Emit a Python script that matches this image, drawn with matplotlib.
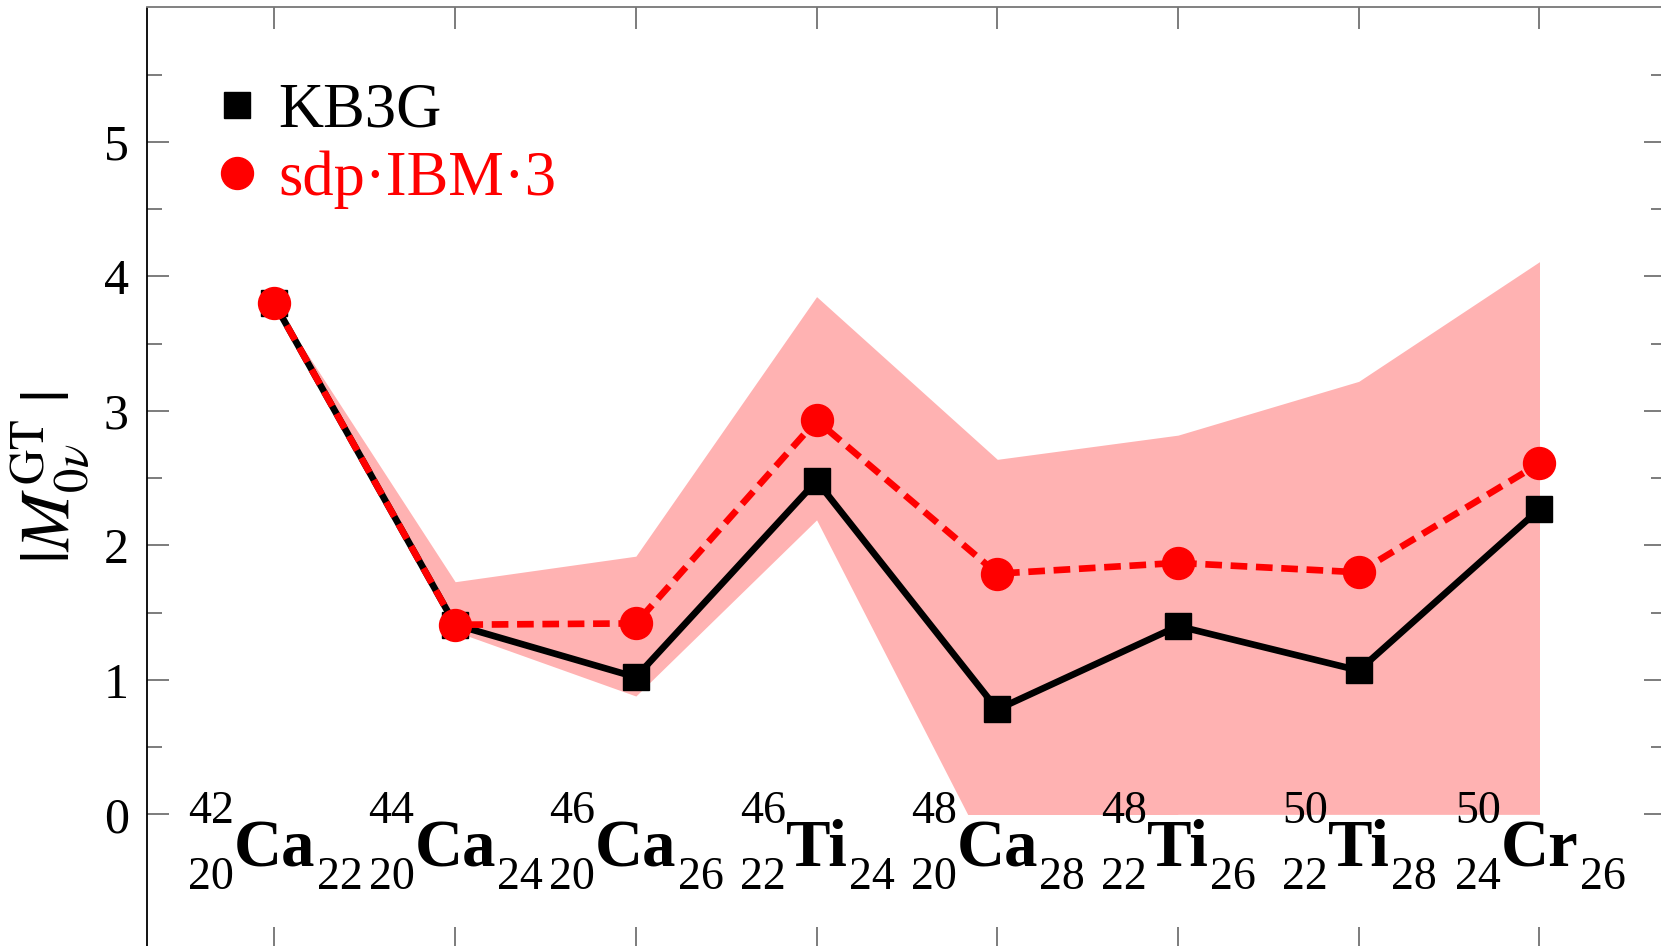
import numpy as np
import matplotlib
matplotlib.use('Agg')
import matplotlib.pyplot as plt
from matplotlib.lines import Line2D
from matplotlib.patches import Rectangle

plt.rcParams['font.family'] = 'serif'
plt.rcParams['font.serif'] = ['Liberation Serif', 'DejaVu Serif']
plt.rcParams['mathtext.fontset'] = 'stix'

# nuclei (A, Z, symbol, N)
mass_numbers = [42, 44, 46, 46, 48, 48, 50, 50]
proton_numbers = [20, 20, 20, 22, 20, 22, 22, 24]
symbols = ['Ca', 'Ca', 'Ca', 'Ti', 'Ca', 'Ti', 'Ti', 'Cr']
neutron_numbers = [22, 24, 26, 24, 28, 26, 28, 26]

kb3g = [3.80, 1.41, 1.02, 2.48, 0.78, 1.40, 1.07, 2.27]
ibm3 = [3.80, 1.41, 1.42, 2.93, 1.79, 1.87, 1.80, 2.61]
band_upper = [3.80, 1.73, 1.92, 3.85, 2.64, 2.82, 3.22, 4.11]
band_lower = [3.80, 1.36, 0.88, 2.19, -0.43, 0.0, 0.0, 0.0]

W, H = 1661, 946
fig = plt.figure(figsize=(W / 100, H / 100), dpi=100)
ax = fig.add_axes([147 / W, -0.003, (1666 - 147) / W, 1 - 7.5 / H + 0.003])

x = np.arange(len(kb3g))

band = ax.fill_between(x, band_lower, band_upper, color='#ffb2b2', lw=0, zorder=1)
band.set_clip_path(Rectangle((-1, 0), 10, 10, transform=ax.transData))

ax.plot(x, kb3g, color='black', lw=4.8, marker='s', ms=19, zorder=3)
ax.plot(x, ibm3, color='red', lw=4.8, ls=(0, (2.5, 1.3)), marker='o', ms=23,
        zorder=4)

ax.set_xlim(-0.705, 7.70)
ax.set_ylim(-1, 6)

# nuclide labels: bold symbol centred on the tick, A/Z on the left, N on the right
renderer = fig.canvas.get_renderer()
base = -0.387
for xi, a, z, s, n in zip(x, mass_numbers, proton_numbers, symbols, neutron_numbers):
    el = ax.text(xi, base, s, fontsize=48, fontweight='bold',
                 ha='center', va='baseline', zorder=5)
    half = el.get_window_extent(renderer).width / 2 * 72 / fig.dpi
    ax.annotate(str(a), (xi, base), xytext=(-half, 31), textcoords='offset points',
                fontsize=33, ha='right', va='baseline')
    ax.annotate(str(z), (xi, base), xytext=(-half, -16), textcoords='offset points',
                fontsize=33, ha='right', va='baseline')
    ax.annotate(str(n), (xi, base), xytext=(half + 1, -16), textcoords='offset points',
                fontsize=33, ha='left', va='baseline')

ax.set_xticks(x)
ax.set_xticklabels([])
ax.set_yticks(range(0, 6))
ax.set_yticks(np.arange(0.5, 6, 1.0), minor=True)

ax.tick_params(axis='both', which='both', direction='in', colors='#666666',
               width=1.2, top=True, right=True, labelcolor='black')
ax.tick_params(axis='y', which='major', length=16, labelsize=36, pad=13)
ax.tick_params(axis='y', which='minor', length=11)
ax.tick_params(axis='x', which='major', length=16)

ax.spines['left'].set_color('black')
ax.spines['top'].set_color('#777777')
ax.spines['right'].set_color('#777777')
for sp in ax.spines.values():
    sp.set_linewidth(1.3)

ax.set_ylabel(r'$|M^{\rm GT}_{0\nu}\;|$', fontsize=50)
ax.yaxis.set_label_coords(-0.036, 0.5)

handles = [
    Line2D([], [], color='black', marker='s', ls='none', ms=19),
    Line2D([], [], color='red', marker='o', ls='none', ms=23),
]
ax.legend(handles, ['KB3G', 'sdp·IBM·3'], loc='upper left',
          bbox_to_anchor=(0.043, 0.92), frameon=False, fontsize=45,
          labelcolor=['black', 'red'], handlelength=0.8, handletextpad=0.25,
          labelspacing=0.15, borderpad=0, borderaxespad=0)

fig.savefig('out.png', dpi=100)
